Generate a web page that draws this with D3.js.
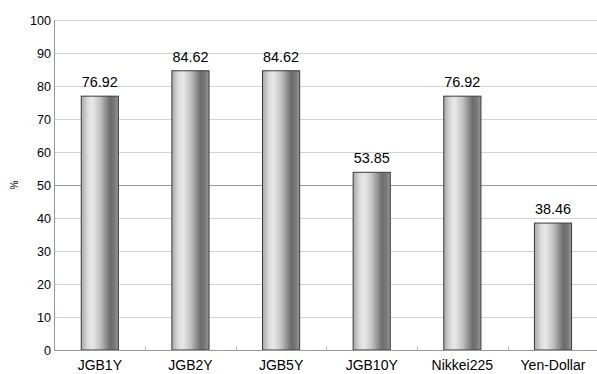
<!DOCTYPE html>
<html>
<head>
<meta charset="utf-8">
<script src="https://cdn.jsdelivr.net/npm/d3@7/dist/d3.min.js"></script>
<style>
  html, body { margin: 0; padding: 0; background: #fff; }
  svg { display: block; }
</style>
</head>
<body>
<svg id="chart" width="597" height="374"></svg>
<script>
// Hit ratio per market (%)
const categories = ["JGB1Y", "JGB2Y", "JGB5Y", "JGB10Y", "Nikkei225", "Yen-Dollar"];
const values = [76.92, 84.62, 84.62, 53.85, 76.92, 38.46];
const yTicks = [0, 10, 20, 30, 40, 50, 60, 70, 80, 90, 100];
const yTitle = "%";

const svg = d3.select("#chart");
const plotLeft = 54.5, plotRight = 598.3, plotTop = 20, plotBottom = 350;

const x = d3.scaleBand().domain(categories).range([plotLeft, plotRight]).paddingInner(0).paddingOuter(0);
const y = d3.scaleLinear().domain([0, 100]).range([plotBottom, plotTop]);

// Cylinder-like shading for the bars
const defs = svg.append("defs");
const grad = defs.append("linearGradient").attr("id", "barShade")
  .attr("x1", "0%").attr("x2", "100%").attr("y1", "0%").attr("y2", "0%");
[[0, "#a8a8a8"], [0.18, "#dcdcdc"], [0.3, "#e8e8e8"], [0.5, "#c4c4c4"],
 [0.78, "#6c6c6c"], [0.9, "#7a7a7a"], [1, "#9a9a9a"]].forEach(([o, c]) =>
  grad.append("stop").attr("offset", o).attr("stop-color", c));

// Horizontal gridlines
svg.append("g").selectAll("line").data(yTicks.filter(t => t > 0)).join("line")
  .attr("x1", plotLeft).attr("x2", plotRight)
  .attr("y1", d => Math.round(y(d)) + 0.5).attr("y2", d => Math.round(y(d)) + 0.5)
  .attr("stroke", d => d === 50 ? "#9a9a9a" : "#d2d2d2")
  .attr("stroke-width", 1);

// Y axis labels
svg.append("g").selectAll("text").data(yTicks).join("text")
  .attr("x", 51).attr("y", d => y(d))
  .attr("dy", "0.36em")
  .attr("text-anchor", "end")
  .attr("font-family", "Liberation Sans, Arial, sans-serif")
  .attr("font-size", 12.6)
  .attr("fill", "#000")
  .text(d => d);

// Axis title
svg.append("text")
  .attr("transform", `translate(18, ${y(50)}) rotate(-90)`)
  .attr("text-anchor", "middle")
  .attr("font-family", "Liberation Sans, Arial, sans-serif")
  .attr("font-size", 10)
  .text(yTitle);

// Bars
const bw = x.bandwidth() * 0.41;
svg.append("g").selectAll("rect").data(values).join("rect")
  .attr("x", (d, i) => x(categories[i]) + (x.bandwidth() - bw) / 2)
  .attr("y", d => y(d))
  .attr("width", bw)
  .attr("height", d => y(0) - y(d))
  .attr("fill", "url(#barShade)")
  .attr("stroke", "#3a3a3a")
  .attr("stroke-width", 1);

// Value labels
svg.append("g").selectAll("text").data(values).join("text")
  .attr("x", (d, i) => x(categories[i]) + x.bandwidth() / 2)
  .attr("y", d => y(d) - 9)
  .attr("text-anchor", "middle")
  .attr("font-family", "Liberation Sans, Arial, sans-serif")
  .attr("font-size", 15)
  .attr("textLength", 36)
  .attr("lengthAdjust", "spacingAndGlyphs")
  .attr("fill", "#000")
  .text(d => d3.format(".2f")(d));

// Axis lines
svg.append("line").attr("x1", plotLeft).attr("x2", plotLeft).attr("y1", plotTop).attr("y2", plotBottom + 0.5)
  .attr("stroke", "#999").attr("stroke-width", 1);
svg.append("line").attr("x1", plotLeft).attr("x2", plotRight).attr("y1", plotBottom + 0.5).attr("y2", plotBottom + 0.5)
  .attr("stroke", "#999").attr("stroke-width", 1.2);

// Category boundary ticks
svg.append("g").selectAll("line").data(categories.slice(1)).join("line")
  .attr("x1", d => Math.round(x(d)) + 0.5).attr("x2", d => Math.round(x(d)) + 0.5)
  .attr("y1", plotBottom - 3.5).attr("y2", plotBottom)
  .attr("stroke", "#bbb");

// Category labels
svg.append("g").selectAll("text").data(categories).join("text")
  .attr("x", d => x(d) + x.bandwidth() / 2)
  .attr("y", 370)
  .attr("text-anchor", "middle")
  .attr("font-family", "Liberation Sans, Arial, sans-serif")
  .attr("font-size", 14)
  .attr("fill", "#000")
  .text(d => d);
</script>
</body>
</html>
